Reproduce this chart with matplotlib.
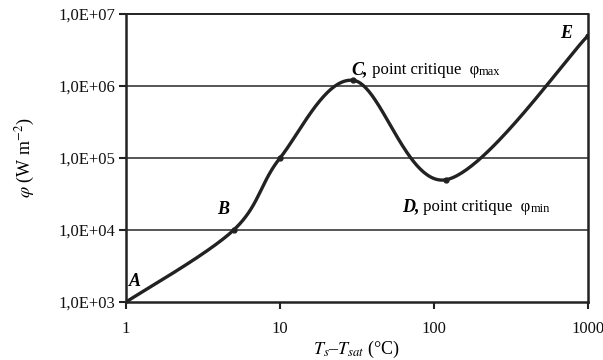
import numpy as np
import matplotlib
matplotlib.use("Agg")
import matplotlib.pyplot as plt
from matplotlib.ticker import FixedLocator, FuncFormatter, NullLocator

plt.rcParams["font.family"] = ["Liberation Serif", "DejaVu Serif"]
plt.rcParams["mathtext.fontset"] = "stix"

# boiling curve: wall superheat (°C) vs heat flux (W/m2)
delta_t = [1, 5, 10, 30, 120, 1000]
flux = [1e3, 1e4, 1e5, 1.2e6, 5e4, 5e6]

x_ticks = [1, 10, 100, 1000]
y_ticks = [1e3, 1e4, 1e5, 1e6, 1e7]

INK = "#222222"
GRID = "#3a3a3a"


def smooth_log(xs, ys, n=60):
    """Bezier smoothing (spreadsheet style) done in log-log space."""
    p = np.column_stack([np.log10(xs), np.log10(ys)])
    pts = []
    for i in range(len(p) - 1):
        p0 = p[max(i - 1, 0)]
        p1 = p[i]
        p2 = p[i + 1]
        p3 = p[min(i + 2, len(p) - 1)]
        c1 = p1 + (p2 - p0) / 6.0
        c2 = p2 - (p3 - p1) / 6.0
        t = np.linspace(0, 1, n)[:, None]
        seg = ((1 - t) ** 3) * p1 + 3 * ((1 - t) ** 2) * t * c1 \
            + 3 * (1 - t) * t ** 2 * c2 + t ** 3 * p2
        pts.append(seg if i == 0 else seg[1:])
    pts = np.vstack(pts)
    return 10 ** pts[:, 0], 10 ** pts[:, 1]


def chain_text(ax, x, y, parts):
    """Write text pieces with different styles one after another."""
    prev = None
    for s, kw in parts:
        if prev is None:
            prev = ax.text(x, y, s, va="bottom", ha="left", **kw)
        else:
            prev = ax.annotate(s, xy=(1, 0), xycoords=prev,
                               va="bottom", ha="left", **kw)
    return prev


fig = plt.figure(figsize=(6.03, 3.6), dpi=100)
ax = fig.add_axes([0.209, 0.161, 0.766, 0.800])

ax.set_xscale("log")
ax.set_yscale("log")
ax.set_xlim(1, 1000)
ax.set_ylim(1e3, 1e7)

for yv in y_ticks[1:-1]:
    ax.axhline(yv, color=GRID, lw=1.2, zorder=1)

cx, cy = smooth_log(delta_t, flux)
ax.plot(cx, cy, color=INK, lw=2.4, zorder=3, solid_capstyle="round")
ax.plot(delta_t, flux, "o", color=INK, ms=3.5, zorder=4)

ax.xaxis.set_major_locator(FixedLocator(x_ticks))
ax.xaxis.set_minor_locator(NullLocator())
ax.xaxis.set_major_formatter(FuncFormatter(lambda v, _: f"{v:g}"))
ax.yaxis.set_major_locator(FixedLocator(y_ticks))
ax.yaxis.set_minor_locator(NullLocator())
ax.yaxis.set_major_formatter(
    FuncFormatter(lambda v, _: f"1,0E+{int(round(np.log10(v))):02d}"))

ax.tick_params(axis="both", which="major", direction="out", length=5,
               width=1.5, color=INK, labelsize=12, labelcolor="#111111")
ax.tick_params(axis="x", pad=9)
ax.tick_params(axis="y", pad=3)
for sp in ax.spines.values():
    sp.set_color(INK)
    sp.set_linewidth(1.8)
ax.spines["top"].set_linewidth(1.4)

ax.set_ylabel(r"$\varphi$ (W m$^{-2}$)", fontsize=13, labelpad=15)
ax.set_xlabel(r"$T_s$–$T_{sat}$ (°C)", fontsize=13, labelpad=1)

bold_it = dict(fontsize=13, fontweight="bold", fontstyle="italic")
plain = dict(fontsize=12)
small = dict(fontsize=9)

ax.text(1.14, 1.9e3, "A", ha="center", va="center", **bold_it)
ax.text(4.3, 1.9e4, "B", ha="center", va="center", **bold_it)
ax.text(718, 5.4e6, "E", ha="center", va="center", **bold_it)

chain_text(ax, 29.0, 1.3e6, [("C,", bold_it),
                             (" point critique  φ", plain),
                             ("max", small)])
chain_text(ax, 62.0, 1.6e4, [("D,", bold_it),
                             (" point critique  φ", plain),
                             ("min", small)])

fig.savefig("out.png", dpi=100)
